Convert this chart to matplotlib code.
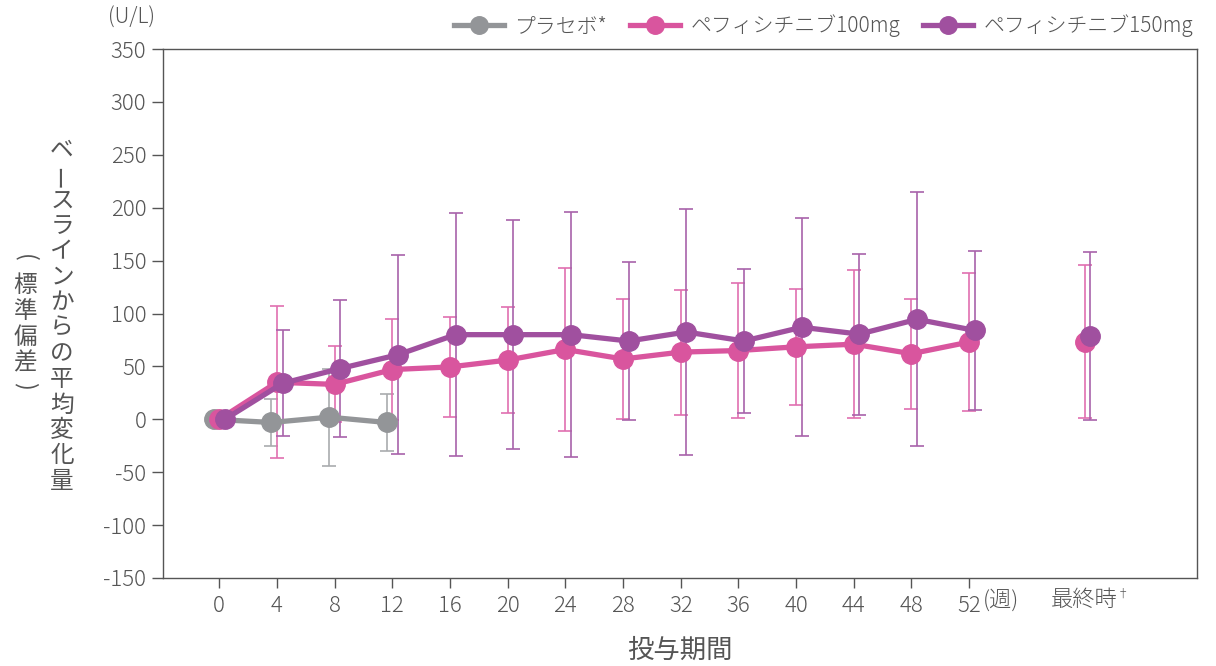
import matplotlib
matplotlib.use("Agg")
import matplotlib.pyplot as plt
import matplotlib.transforms as mtransforms
import numpy as np

plt.rcParams['font.family'] = ['Noto Sans CJK JP', 'DejaVu Sans']
plt.rcParams['font.weight'] = 'light'
plt.rcParams['axes.unicode_minus'] = False

# ---- data ----
weeks = [0, 4, 8, 12, 16, 20, 24, 28, 32, 36, 40, 44, 48, 52]
final_pos = 60
xtick_labels = ["0", "4", "8", "12", "16", "20", "24", "28", "32", "36", "40", "44", "48", "52"]

placebo_weeks = [0, 4, 8, 12]
placebo_mean = [0, -3, 2, -3]
placebo_sd = [0, 22, 46, 27]

p100_mean = [0, 35, 33, 47, 49.5, 56, 66, 57, 63.5, 65, 68.5, 71, 62, 73]
p100_sd = [0, 72, 36, 48, 47, 50, 77, 57, 59, 64, 55, 70, 52, 65]
p100_final_mean = 73.5
p100_final_sd = 72.5

p150_mean = [0, 34, 48, 61, 80, 80, 80, 74, 82.5, 74, 87, 80.5, 94.5, 84]
p150_sd = [0, 50, 65, 94, 115, 108, 116, 75, 116, 68, 103, 76, 120, 75]
p150_final_mean = 79
p150_final_sd = 79.5

labels = ["プラセボ*", "ペフィシチニブ100mg", "ペフィシチニブ150mg"]

# ---- style ----
c_pl, c_pl_e = "#939598", "#a9abae"
c_100, c_100_e = "#d9559e", "#e070b0"
c_150, c_150_e = "#a0509f", "#a862aa"
txt = "#555555"
off = 0.39
lw = 3.8
ms = 14

W, H = 1216, 666
fig = plt.figure(figsize=(W / 100, H / 100), dpi=100)
ax = fig.add_axes([163 / W, 1 - 578 / H, (1197 - 163) / W, (578 - 49) / H])

def errs(x, m, s, c):
    s = np.array(s, dtype=float)
    mask = s > 0
    ax.errorbar(np.array(x, dtype=float)[mask], np.array(m, dtype=float)[mask], yerr=s[mask],
                fmt='none', ecolor=c, elinewidth=1.2, capsize=5, capthick=1.2, zorder=2)

xp = np.array(placebo_weeks) - off
x1 = np.array(weeks, dtype=float)
x2 = np.array(weeks, dtype=float) + off

errs(xp, placebo_mean, placebo_sd, c_pl_e)
errs(x1, p100_mean, p100_sd, c_100_e)
errs(x2, p150_mean, p150_sd, c_150_e)
errs([final_pos], [p100_final_mean], [p100_final_sd], c_100_e)
errs([final_pos + off], [p150_final_mean], [p150_final_sd], c_150_e)

ax.plot(xp, placebo_mean, '-o', color=c_pl, lw=lw, ms=ms, zorder=3, label=labels[0])
ax.plot(x1, p100_mean, '-o', color=c_100, lw=lw, ms=ms, zorder=4, label=labels[1])
ax.plot(x2, p150_mean, '-o', color=c_150, lw=lw, ms=ms, zorder=5, label=labels[2])
ax.plot([final_pos], [p100_final_mean], 'o', color=c_100, ms=ms, zorder=4)
ax.plot([final_pos + off], [p150_final_mean], 'o', color=c_150, ms=ms, zorder=5)

ax.set_xlim(-3.9, 67.8)
ax.set_ylim(-150, 350)
ax.set_yticks(np.arange(-150, 351, 50))
ax.set_xticks(weeks)
ax.set_xticklabels(xtick_labels)

for sp in ax.spines.values():
    sp.set_color("#555555")
    sp.set_linewidth(1.0)
ax.tick_params(axis='y', direction='out', length=8, width=1.0, color="#555555",
               labelsize=16, labelcolor=txt, pad=4)
ax.tick_params(axis='x', direction='out', length=7, width=1.0, color="#555555",
               labelsize=16, labelcolor=txt, pad=5)

# extra x labels
trans = mtransforms.blended_transform_factory(ax.transData, ax.transAxes)
lab_y = -22 / (578 - 49)
t_wk = mtransforms.offset_copy(trans, fig=fig, x=14, y=0, units='dots')
ax.text(52, lab_y, "(週)", transform=t_wk, ha='left', va='center', fontsize=16, color=txt)
ax.text(final_pos, lab_y, "最終時", transform=trans, ha='center', va='center', fontsize=16, color=txt)
t_dag = mtransforms.offset_copy(trans, fig=fig, x=38, y=6, units='dots')
ax.text(final_pos, lab_y, "†", transform=t_dag, ha='center', va='center', fontsize=9, color=txt)

# x axis title
fig.text(680 / W, 1 - 650 / H, "投与期間", ha='center', va='center', fontsize=19,
         color=txt, fontweight='normal')

# units
fig.text(132 / W, 1 - 18 / H, "(U/L)", ha='center', va='center', fontsize=15, color=txt)

# vertical y label
main = "ベースラインからの平均変化量"
for i, ch in enumerate(main):
    y = 150 + 25.5 * i
    rot = 90 if ch == "ー" else 0
    fig.text(62 / W, 1 - y / H, ch, ha='center', va='center', fontsize=17,
             color=txt, rotation=rot, fontweight='normal')
sub = [("(", 258, -90), ("標", 286, 0), ("準", 311, 0), ("偏", 337, 0), ("差", 363, 0), (")", 386, -90)]
for ch, y, rot in sub:
    fig.text(25 / W, 1 - y / H, ch, ha='center', va='center', fontsize=17,
             color=txt, rotation=rot, fontweight='normal')

# legend
leg = fig.legend(loc='upper right', bbox_to_anchor=(1212 / W, 1 + 4 / H), ncol=3,
                 frameon=False, fontsize=15, handlelength=2.4, columnspacing=1.1,
                 handletextpad=0.5, markerscale=0.9)
for t in leg.get_texts():
    t.set_color(txt)

fig.savefig("out.png", dpi=100)
